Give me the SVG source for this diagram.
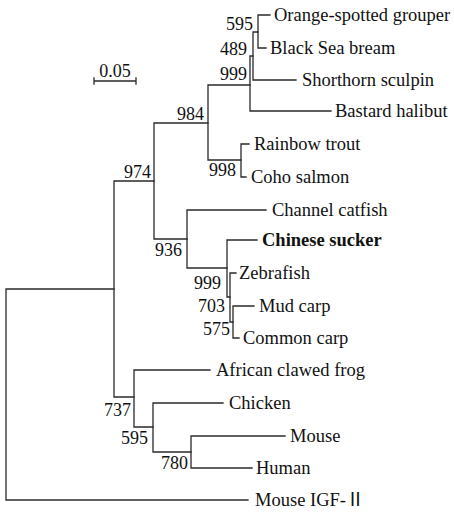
<svg xmlns="http://www.w3.org/2000/svg" width="454" height="512" viewBox="0 0 454 512">
<style>
.e{stroke:#2a2a2a;stroke-width:1.3;fill:none;stroke-linecap:square}
.t{font-family:"Liberation Serif","Noto Sans CJK SC",serif;font-size:18.5px;fill:#111}
.b{font-family:"Liberation Serif","Noto Sans CJK SC",serif;font-size:18px;fill:#111;text-anchor:end}
</style>
<rect width="454" height="512" fill="#fff"/>
<g id="scale">
<path class="e" d="M94,81H136M94,78V84M136,78V84"/>
<text class="t" x="115" y="77" text-anchor="middle" style="font-size:18px">0.05</text>
</g>
<g id="connectors">
<path class="e" d="M6,289V500M6,289H114M6,500H248"/>
<path class="e" d="M114,181V397M114,181H154M114,397H134"/>
<path class="e" d="M154,123V239M154,123H208M154,239H187"/>
<path class="e" d="M208,85V160M208,85H250M208,160H241"/>
<path class="e" d="M250,56V111M250,56H253M250,111H331"/>
<path class="e" d="M253,32V80M253,32H258M253,80H296"/>
<path class="e" d="M258,15V48M258,15H270M258,48H266"/>
<path class="e" d="M241,144V177M241,144H249M241,177H246"/>
<path class="e" d="M187,210V268M187,210H266M187,268H227"/>
<path class="e" d="M227,240V297M227,240H257M227,297H230"/>
<path class="e" d="M230,273V322M230,273H236M230,322H233"/>
<path class="e" d="M233,306V338M233,306H254M233,338H239"/>
<path class="e" d="M134,370V427M134,370H210M134,427H153"/>
<path class="e" d="M153,403V452M153,403H223M153,452H191"/>
<path class="e" d="M191,436V468M191,436H285M191,468H252"/>
</g>
<g id="labels">
<text class="b" x="253" y="30">595</text>
<text class="b" x="247" y="55">489</text>
<text class="b" x="247" y="80">999</text>
<text class="b" x="204" y="120">984</text>
<text class="b" x="151" y="178">974</text>
<text class="b" x="236" y="176">998</text>
<text class="b" x="182" y="256">936</text>
<text class="b" x="221" y="289">999</text>
<text class="b" x="225" y="312">703</text>
<text class="b" x="230" y="335">575</text>
<text class="b" x="131" y="416">737</text>
<text class="b" x="148" y="444">595</text>
<text class="b" x="188" y="469">780</text>
</g>
<g id="n1"><text class="t" x="274" y="21">Orange-spotted grouper</text></g>
<g id="n2"><text class="t" x="270" y="54">Black Sea bream</text></g>
<g id="n3"><text class="t" x="302" y="86">Shorthorn sculpin</text></g>
<g id="n4"><text class="t" x="335" y="117">Bastard halibut</text></g>
<g id="n5"><text class="t" x="254" y="150">Rainbow trout</text></g>
<g id="n6"><text class="t" x="251" y="183">Coho salmon</text></g>
<g id="n7"><text class="t" x="272" y="216">Channel catfish</text></g>
<g id="n8"><text class="t" x="262" y="246" font-weight="bold">Chinese sucker</text></g>
<g id="n9"><text class="t" x="239" y="279">Zebrafish</text></g>
<g id="n10"><text class="t" x="259" y="312">Mud carp</text></g>
<g id="n11"><text class="t" x="243" y="344">Common carp</text></g>
<g id="n12"><text class="t" x="216" y="376">African clawed frog</text></g>
<g id="n13"><text class="t" x="229" y="409">Chicken</text></g>
<g id="n14"><text class="t" x="290" y="442">Mouse</text></g>
<g id="n15"><text class="t" x="256" y="474">Human</text></g>
<g id="n16"><text class="t" x="255" y="506">Mouse IGF-Ⅱ</text></g>
</svg>
